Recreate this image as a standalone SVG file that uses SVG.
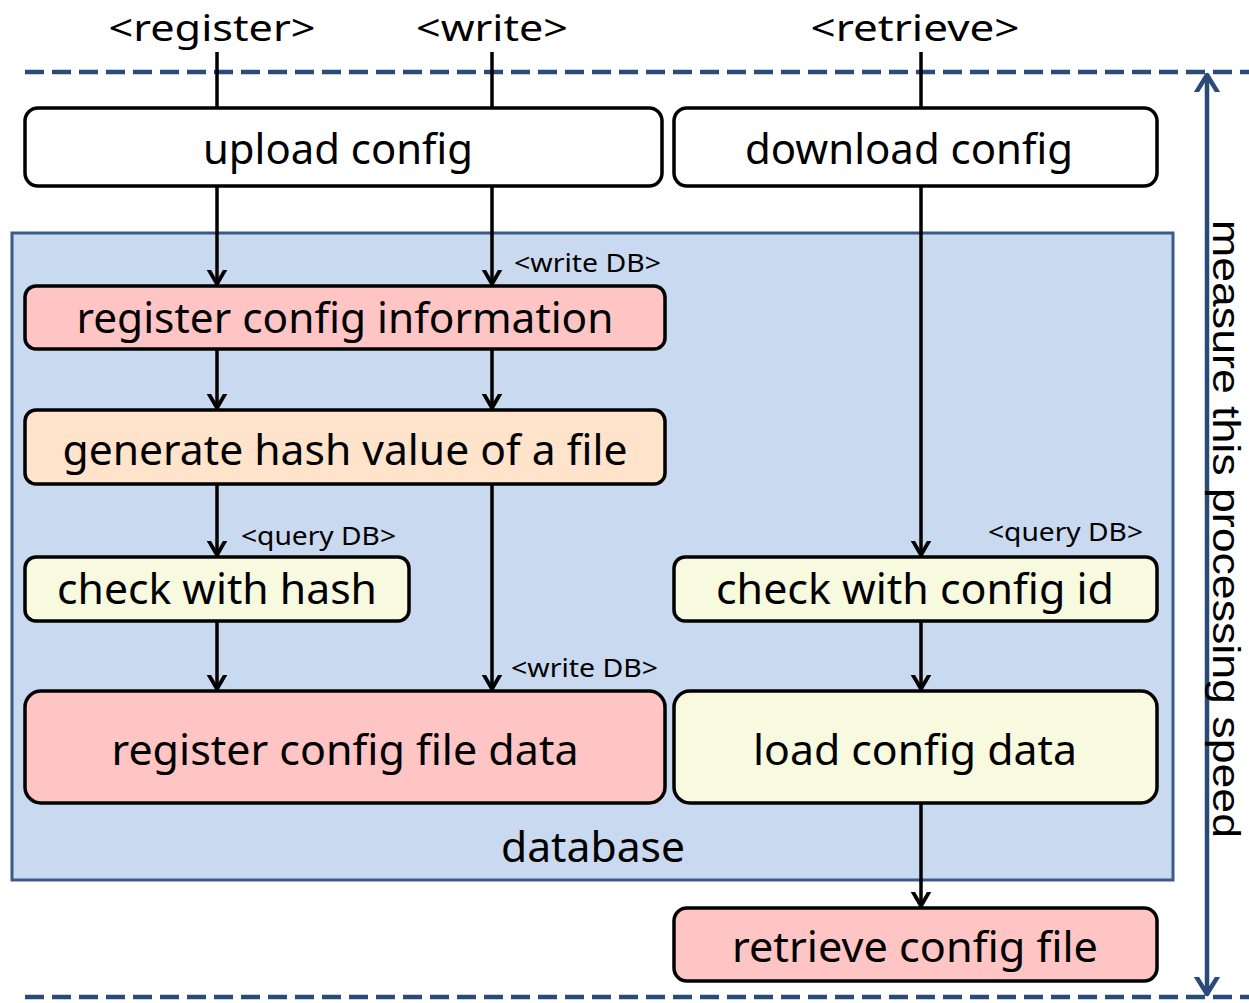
<svg xmlns="http://www.w3.org/2000/svg" width="1249" height="1003" viewBox="0 0 1249 1003">
<defs>
<style>
text{font-family:"Noto Sans","Liberation Sans",sans-serif;fill:#000}
.big{font-size:42px;text-anchor:middle}
.top{font-size:37px;text-anchor:middle}
.vert{font-family:"Liberation Sans",sans-serif;font-size:39px;text-anchor:middle}
.sm{font-size:26px}
.box{stroke:#000;stroke-width:3.5}
.w{fill:#fff}.r{fill:#ffc4c4}.o{fill:#ffe3cb}.y{fill:#f8fae0}
.c{stroke:#000;stroke-width:3.5;fill:none}
.dash{stroke:#2a4a78;stroke-width:4.5;stroke-dasharray:19 8;fill:none}
</style>
<marker id="ah" markerUnits="userSpaceOnUse" markerWidth="30" markerHeight="30" viewBox="-15 -15 30 30" refX="0" refY="0" orient="auto">
<path d="M-20,-11 L-1,0 L-20,11" fill="none" stroke="#000" stroke-width="3.8" stroke-linejoin="miter"/>
</marker>
<marker id="bh" markerUnits="userSpaceOnUse" markerWidth="36" markerHeight="36" viewBox="-18 -18 36 36" refX="0" refY="0" orient="auto-start-reverse">
<path d="M-22,-13 L-1,0 L-22,13" fill="none" stroke="#2a4a78" stroke-width="4.5" stroke-linecap="round" stroke-linejoin="round"/>
</marker>
</defs>
<rect width="1249" height="1003" fill="#fff"/>

<g id="database">
<rect x="12" y="233" width="1161" height="647" fill="#c9d9ef" stroke="#3a5a8a" stroke-width="3"/>
<text class="big" x="593" y="862" textLength="184" lengthAdjust="spacingAndGlyphs">database</text>
</g>

<g id="labels">
<text class="top" x="212" y="41" textLength="207" lengthAdjust="spacingAndGlyphs">&lt;register&gt;</text>
<text class="top" x="492" y="41" textLength="152" lengthAdjust="spacingAndGlyphs">&lt;write&gt;</text>
<text class="top" x="915" y="41" textLength="209" lengthAdjust="spacingAndGlyphs">&lt;retrieve&gt;</text>
<text class="sm" x="514" y="272" textLength="147" lengthAdjust="spacingAndGlyphs">&lt;write DB&gt;</text>
<text class="sm" x="241" y="545" textLength="155" lengthAdjust="spacingAndGlyphs">&lt;query DB&gt;</text>
<text class="sm" x="988" y="541" textLength="155" lengthAdjust="spacingAndGlyphs">&lt;query DB&gt;</text>
<text class="sm" x="511" y="677" textLength="147" lengthAdjust="spacingAndGlyphs">&lt;write DB&gt;</text>
</g>

<g id="measure">
<line class="dash" x1="25" y1="72" x2="1249" y2="72"/>
<line class="dash" x1="25" y1="997" x2="1249" y2="997"/>
<line x1="1207" y1="74" x2="1207" y2="995" stroke="#2a4a78" stroke-width="4.5" marker-start="url(#bh)" marker-end="url(#bh)"/>
<text class="vert" transform="translate(1213,529) rotate(90)" x="0" y="0" textLength="618" lengthAdjust="spacingAndGlyphs">measure this processing speed</text>
</g>

<g id="connectors">
<line class="c" x1="217" y1="52" x2="217" y2="108"/>
<line class="c" x1="492" y1="52" x2="492" y2="108"/>
<line class="c" x1="921" y1="52" x2="921" y2="108"/>
<line class="c" x1="217" y1="186" x2="217" y2="285" marker-end="url(#ah)"/>
<line class="c" x1="492" y1="186" x2="492" y2="285" marker-end="url(#ah)"/>
<line class="c" x1="217" y1="345" x2="217" y2="409" marker-end="url(#ah)"/>
<line class="c" x1="492" y1="343" x2="492" y2="409" marker-end="url(#ah)"/>
<line class="c" x1="217" y1="484" x2="217" y2="556" marker-end="url(#ah)"/>
<line class="c" x1="492" y1="484" x2="492" y2="690" marker-end="url(#ah)"/>
<line class="c" x1="217" y1="621" x2="217" y2="690" marker-end="url(#ah)"/>
<line class="c" x1="921" y1="186" x2="921" y2="556" marker-end="url(#ah)"/>
<line class="c" x1="921" y1="621" x2="921" y2="690" marker-end="url(#ah)"/>
<line class="c" x1="921" y1="803" x2="921" y2="907" marker-end="url(#ah)"/>
</g>

<g id="upload">
<rect class="box w" x="25" y="108" width="637" height="78" rx="13"/>
<text class="big" x="338" y="164" textLength="270" lengthAdjust="spacingAndGlyphs">upload config</text>
</g>
<g id="download">
<rect class="box w" x="674" y="108" width="483" height="78" rx="13"/>
<text class="big" x="909" y="164" textLength="328" lengthAdjust="spacingAndGlyphs">download config</text>
</g>
<g id="regInfo">
<rect class="box r" x="25" y="286" width="640" height="63" rx="11"/>
<text class="big" x="345" y="333" textLength="537" lengthAdjust="spacingAndGlyphs">register config information</text>
</g>
<g id="genHash">
<rect class="box o" x="25" y="410" width="640" height="74" rx="11"/>
<text class="big" x="345" y="465" textLength="565" lengthAdjust="spacingAndGlyphs">generate hash value of a file</text>
</g>
<g id="checkHash">
<rect class="box y" x="25" y="557" width="384" height="64" rx="11"/>
<text class="big" x="217" y="604" textLength="320" lengthAdjust="spacingAndGlyphs">check with hash</text>
</g>
<g id="checkId">
<rect class="box y" x="674" y="557" width="483" height="64" rx="11"/>
<text class="big" x="915" y="604" textLength="398" lengthAdjust="spacingAndGlyphs">check with config id</text>
</g>
<g id="regFile">
<rect class="box r" x="25" y="691" width="640" height="112" rx="16"/>
<text class="big" x="345" y="765" textLength="467" lengthAdjust="spacingAndGlyphs">register config file data</text>
</g>
<g id="loadData">
<rect class="box y" x="674" y="691" width="483" height="112" rx="16"/>
<text class="big" x="915" y="765" textLength="324" lengthAdjust="spacingAndGlyphs">load config data</text>
</g>
<g id="retrieve">
<rect class="box r" x="674" y="908" width="483" height="73" rx="13"/>
<text class="big" x="915" y="962" textLength="366" lengthAdjust="spacingAndGlyphs">retrieve config file</text>
</g>
</svg>
